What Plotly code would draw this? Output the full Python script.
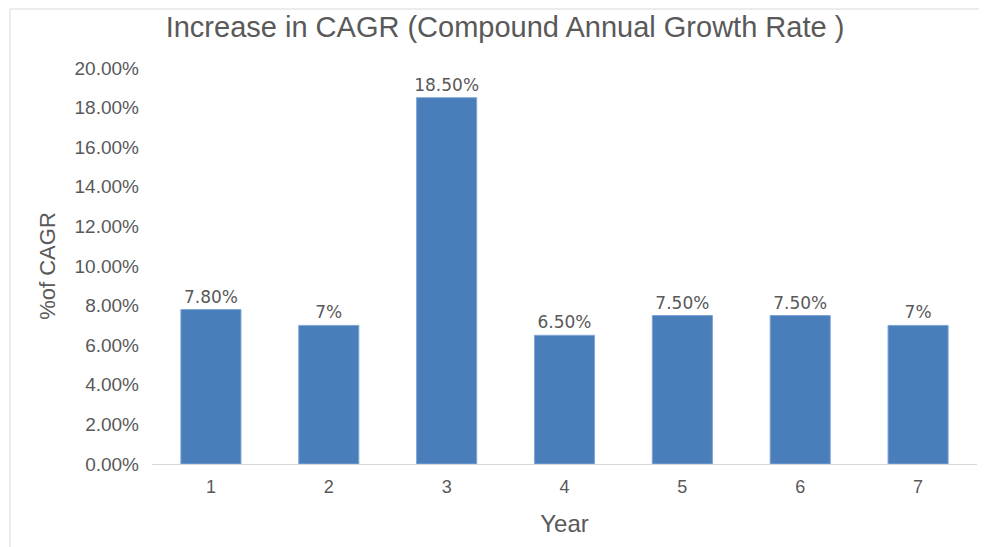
import plotly.graph_objects as go

years = ["1", "2", "3", "4", "5", "6", "7"]
cagr = [0.078, 0.07, 0.185, 0.065, 0.075, 0.075, 0.07]
labels = ["7.80%", "7%", "18.50%", "6.50%", "7.50%", "7.50%", "7%"]

W, H = 987, 547
L, R, T, B = 144, 18, 60, 91
pw, ph = W - L - R, H - T - B

fig = go.Figure(go.Bar(
    x=years, y=cagr, text=labels, textposition="outside",
    constraintext="none",
    textfont=dict(family="DejaVu Sans", size=17, color="#595959"),
    marker=dict(color="#4a7ebb", line=dict(color="#7fa6d6", width=1)),
    cliponaxis=False,
))

fig.update_layout(
    width=W, height=H, margin=dict(l=L, r=R, t=T, b=B),
    paper_bgcolor="white", plot_bgcolor="white",
    font=dict(family="Liberation Sans", color="#595959"),
    title=dict(text="Increase in CAGR (Compound Annual Growth Rate )",
               x=497 / W, xanchor="center", y=1 - 19 / H, yanchor="middle",
               font=dict(size=29, color="#595959")),
    bargap=0.49, showlegend=False,
    xaxis=dict(showline=True, linecolor="#d9d9d9", linewidth=1, ticks="",
               ticklabelstandoff=6,
               tickfont=dict(size=18, color="#595959"),
               title=dict(text="Year", font=dict(size=24, color="#595959"), standoff=19)),
    yaxis=dict(range=[0, 0.2], dtick=0.02, tickformat=".2%", showgrid=False,
               zeroline=False, ticks="", ticklabelstandoff=12,
               tickfont=dict(size=19, color="#595959"),
               title=dict(text="%of CAGR", font=dict(size=22, color="#595959"), standoff=12)),
    shapes=[
        dict(type="line", xref="paper", yref="paper",
             x0=(2 - L) / pw, x1=(W - L) / pw, y0=(H - B - 1) / ph, y1=(H - B - 1) / ph,
             line=dict(color="#d9d9d9", width=1)),
        dict(type="line", xref="paper", yref="paper",
             x0=(2 - L) / pw, x1=(2 - L) / pw, y0=(H - B - 1) / ph, y1=-B / ph,
             line=dict(color="#d9d9d9", width=1)),
    ],
)

fig.write_html("out.html")
